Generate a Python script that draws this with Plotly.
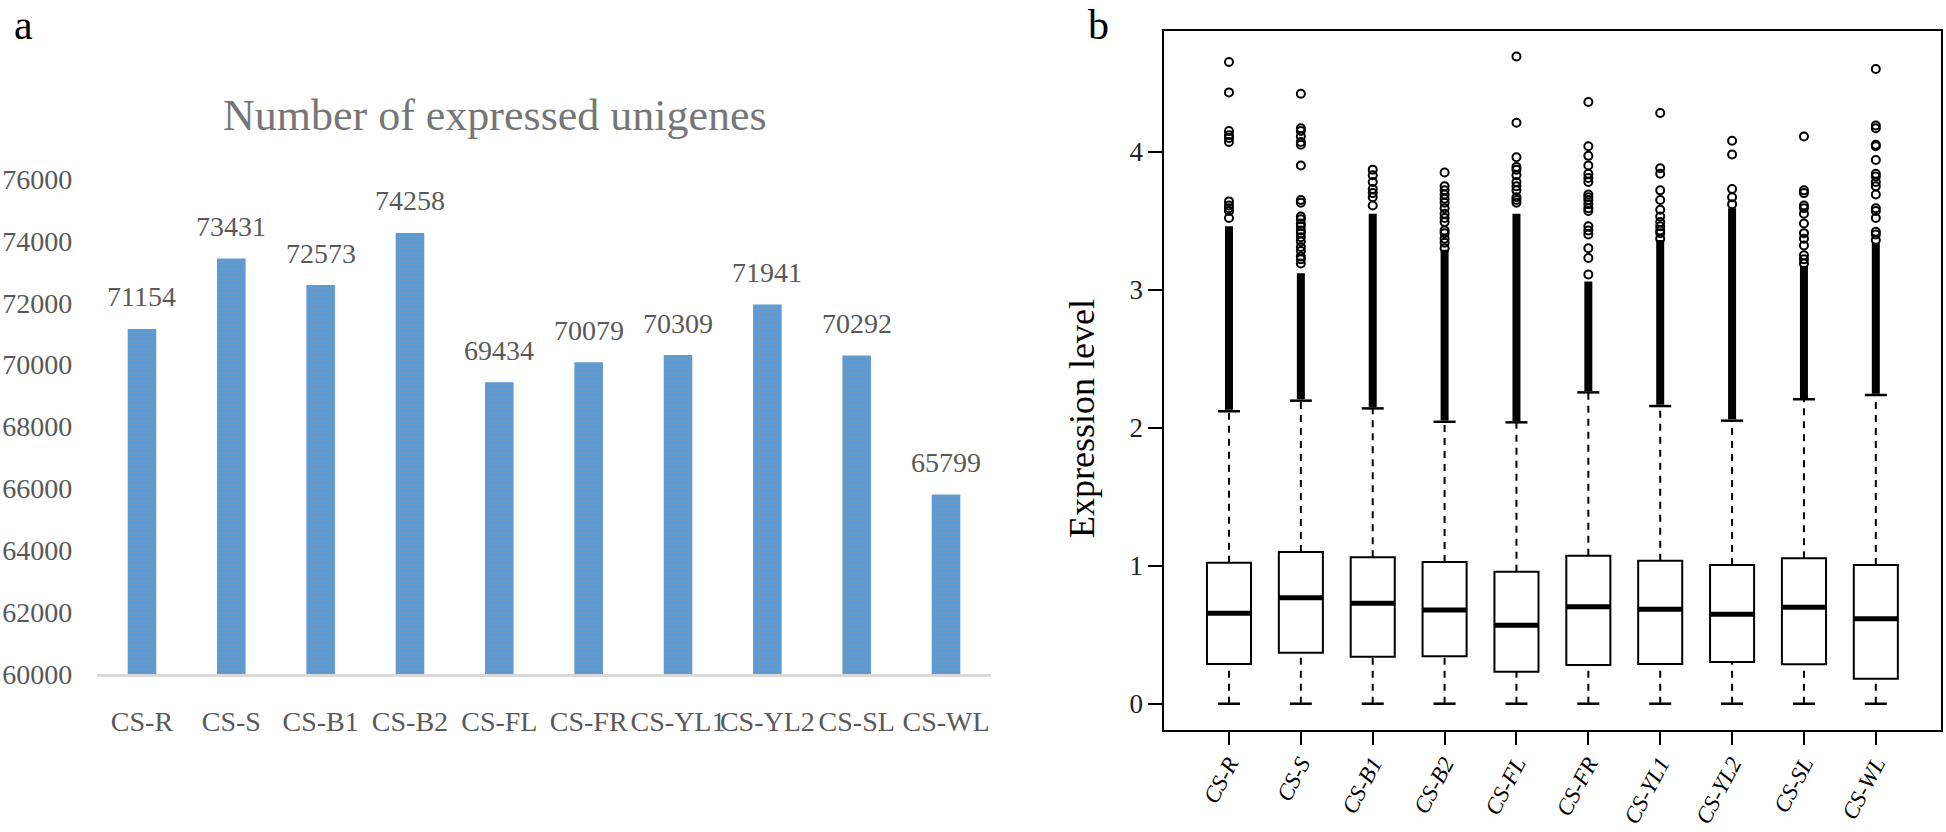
import plotly.graph_objects as go

W, H = 1946, 832

# ---------------- data ----------------
samples = ["CS-R", "CS-S", "CS-B1", "CS-B2", "CS-FL", "CS-FR", "CS-YL1", "CS-YL2", "CS-SL", "CS-WL"]
unigenes = [71154, 73431, 72573, 74258, 69434, 70079, 70309, 71941, 70292, 65799]
count_ticks = [60000, 62000, 64000, 66000, 68000, 70000, 72000, 74000, 76000]

box_q1 = [0.287, 0.370, 0.341, 0.343, 0.232, 0.280, 0.288, 0.302, 0.286, 0.181]
box_median = [0.655, 0.768, 0.728, 0.679, 0.568, 0.703, 0.684, 0.648, 0.699, 0.616]
box_q3 = [1.022, 1.100, 1.061, 1.027, 0.957, 1.073, 1.036, 1.005, 1.054, 1.005]
whisker_low = [0, 0, 0, 0, 0, 0, 0, 0, 0, 0]
whisker_high = [2.12, 2.196, 2.14, 2.043, 2.039, 2.256, 2.157, 2.051, 2.206, 2.237]
dense_top = [3.46, 3.12, 3.55, 3.29, 3.55, 3.06, 3.36, 3.59, 3.17, 3.34]
level_ticks = [0, 1, 2, 3, 4]

out_cs_r = [4.65, 4.43, 4.15, 4.12, 4.10, 4.07, 3.64, 3.61, 3.59, 3.57, 3.52]
out_cs_s = [4.42, 4.17, 4.15, 4.11, 4.07, 4.05, 3.90, 3.65, 3.63, 3.53, 3.51, 3.48, 3.46,
            3.43, 3.41, 3.38, 3.35, 3.31, 3.28, 3.24, 3.22, 3.19]
out_cs_b1 = [3.87, 3.83, 3.78, 3.73, 3.70, 3.67, 3.61]
out_cs_b2 = [3.85, 3.75, 3.72, 3.69, 3.66, 3.63, 3.59, 3.55, 3.52, 3.49, 3.43, 3.41, 3.37, 3.34, 3.30]
out_cs_fl = [4.69, 4.21, 3.96, 3.89, 3.87, 3.83, 3.78, 3.75, 3.72, 3.67, 3.65, 3.63]
out_cs_fr = [4.36, 4.04, 3.97, 3.90, 3.84, 3.81, 3.78, 3.69, 3.67, 3.65, 3.62, 3.59, 3.57,
             3.46, 3.43, 3.40, 3.30, 3.23, 3.11]
out_cs_yl1 = [4.28, 3.88, 3.84, 3.72, 3.65, 3.58, 3.53, 3.49, 3.46, 3.43, 3.41, 3.37]
out_cs_yl2 = [4.08, 3.98, 3.73, 3.67, 3.62]
out_cs_sl = [4.11, 3.72, 3.70, 3.61, 3.59, 3.55, 3.48, 3.41, 3.37, 3.32, 3.25, 3.22, 3.19]
out_cs_wl = [4.60, 4.19, 4.17, 4.05, 4.04, 3.94, 3.84, 3.82, 3.78, 3.75, 3.69, 3.59, 3.57,
             3.52, 3.42, 3.40, 3.36]
outliers = [out_cs_r, out_cs_s, out_cs_b1, out_cs_b2, out_cs_fl, out_cs_fr,
            out_cs_yl1, out_cs_yl2, out_cs_sl, out_cs_wl]

# ---------------- style ----------------
SERIF = "Liberation Serif, Times New Roman, serif"
GRAY_TXT = "#595959"
BOX_W = 0.613
pos = list(range(1, len(samples) + 1))

fig = go.Figure()

# ---- panel a: bars ----
fig.add_trace(go.Bar(
    x=samples, y=[v - 60000 for v in unigenes], base=60000,
    width=0.32,
    marker=dict(color="#5b9bd5", line=dict(width=0),
                pattern=dict(shape=".", fgcolor="#c8875a", size=4, solidity=0.12, fgopacity=0.55)),
    xaxis="x", yaxis="y", showlegend=False, hoverinfo="skip",
))

# ---- panel b: boxes ----
fig.add_trace(go.Box(
    x=pos, q1=box_q1, median=box_median, q3=box_q3,
    lowerfence=box_q1, upperfence=box_q3,
    width=BOX_W, fillcolor="white", line=dict(color="black", width=2),
    boxpoints=False, xaxis="x2", yaxis="y2", showlegend=False, hoverinfo="skip",
))

# thick medians
mx, my = [], []
for p, m in zip(pos, box_median):
    mx += [p - BOX_W / 2, p + BOX_W / 2, None]
    my += [m, m, None]
fig.add_trace(go.Scatter(x=mx, y=my, mode="lines", line=dict(color="black", width=5),
                         xaxis="x2", yaxis="y2", showlegend=False, hoverinfo="skip"))

# dashed whiskers
wx, wy = [], []
for p, lo, q1, q3, hi in zip(pos, whisker_low, box_q1, box_q3, whisker_high):
    wx += [p, p, None, p, p, None]
    wy += [lo, q1, None, q3, hi, None]
fig.add_trace(go.Scatter(x=wx, y=wy, mode="lines", line=dict(color="black", width=2, dash="7px,6px"),
                         xaxis="x2", yaxis="y2", showlegend=False, hoverinfo="skip"))

# whisker caps
cx, cy = [], []
for p, lo, hi in zip(pos, whisker_low, whisker_high):
    cx += [p - BOX_W / 4, p + BOX_W / 4, None, p - BOX_W / 4, p + BOX_W / 4, None]
    cy += [lo, lo, None, hi, hi, None]
fig.add_trace(go.Scatter(x=cx, y=cy, mode="lines", line=dict(color="black", width=2.5),
                         xaxis="x2", yaxis="y2", showlegend=False, hoverinfo="skip"))

# dense outlier bands (overlapping circles)
dx, dy = [], []
for p, hi, top in zip(pos, whisker_high, dense_top):
    dx += [p, p, None]
    dy += [hi + 0.01, top, None]
fig.add_trace(go.Scatter(x=dx, y=dy, mode="lines", line=dict(color="black", width=8),
                         xaxis="x2", yaxis="y2", showlegend=False, hoverinfo="skip"))

# discrete outliers
ox, oy = [], []
for p, vals in zip(pos, outliers):
    ox += [p] * len(vals)
    oy += vals
fig.add_trace(go.Scatter(x=ox, y=oy, mode="markers",
                         marker=dict(symbol="circle-open", size=8, color="black", line=dict(width=2)),
                         xaxis="x2", yaxis="y2", showlegend=False, hoverinfo="skip"))

# ---------------- annotations ----------------
ann = []
for s, v in zip(samples, unigenes):
    ann.append(dict(x=s, y=v, xref="x", yref="y", text=str(v), showarrow=False, yshift=32,
                    xanchor="center", yanchor="middle",
                    font=dict(family=SERIF, size=28, color=GRAY_TXT)))
ann.append(dict(x=495 / W, y=1 - 116 / H, xref="paper", yref="paper", text="Number of expressed unigenes",
                showarrow=False, xanchor="center", yanchor="middle",
                font=dict(family=SERIF, size=44, color="#767676")))
ann.append(dict(x=23 / W, y=1 - 25 / H, xref="paper", yref="paper", text="a", showarrow=False,
                xanchor="center", yanchor="middle",
                font=dict(family=SERIF, size=42, color="black")))
ann.append(dict(x=1098 / W, y=1 - 25 / H, xref="paper", yref="paper", text="b", showarrow=False,
                xanchor="center", yanchor="middle",
                font=dict(family=SERIF, size=42, color="black")))
ann.append(dict(x=1082 / W, y=1 - 419 / H, xref="paper", yref="paper", text="Expression level",
                showarrow=False, textangle=-90, xanchor="center", yanchor="middle",
                font=dict(family=SERIF, size=36, color="black")))

fig.update_layout(
    width=W, height=H, margin=dict(l=0, r=0, t=0, b=0, autoexpand=False),
    paper_bgcolor="white", plot_bgcolor="white",
    showlegend=False, annotations=ann, bargap=0.68,
    xaxis=dict(domain=[97.3 / W, 990.7 / W], type="category", categoryorder="array",
               categoryarray=samples, range=[-0.5, 9.5], tickangle=0,
               showline=True, linecolor="#d9d9d9", linewidth=3, ticks="", showgrid=False,
               zeroline=False, tickfont=dict(family=SERIF, size=28, color=GRAY_TXT),
               ticklabelstandoff=20, fixedrange=True),
    yaxis=dict(domain=[1 - 674 / H, 1 - 179 / H], range=[60000, 76000], tickvals=count_ticks,
               tickformat="d", showline=False, showgrid=False, zeroline=False, ticks="",
               tickfont=dict(family=SERIF, size=28, color=GRAY_TXT), ticklabelstandoff=24,
               fixedrange=True),
    xaxis2=dict(domain=[1164.3 / W, 1940.5 / W], range=[0.1, 10.9], tickvals=pos, ticktext=samples,
                tickangle=-62, ticks="outside", ticklen=13, tickwidth=2, tickcolor="black",
                showline=True, mirror=True, linecolor="black", linewidth=2, showgrid=False,
                zeroline=False, anchor="y2", ticklabelstandoff=-4,
                tickfont=dict(family=SERIF, size=23, color="black", style="italic"), fixedrange=True),
    yaxis2=dict(domain=[1 - 730 / H, 1 - 30.7 / H], range=[-0.1906, 4.877], tickvals=level_ticks,
                ticks="outside", ticklen=14, tickwidth=2, tickcolor="black",
                showline=True, mirror=True, linecolor="black", linewidth=2, showgrid=False,
                zeroline=False, anchor="x2",
                tickfont=dict(family=SERIF, size=27, color="#222222"), fixedrange=True),
)

fig.write_html("out.html", config={"displayModeBar": False},
               post_script="document.body.style.margin='0px';document.body.style.overflow='hidden';")
